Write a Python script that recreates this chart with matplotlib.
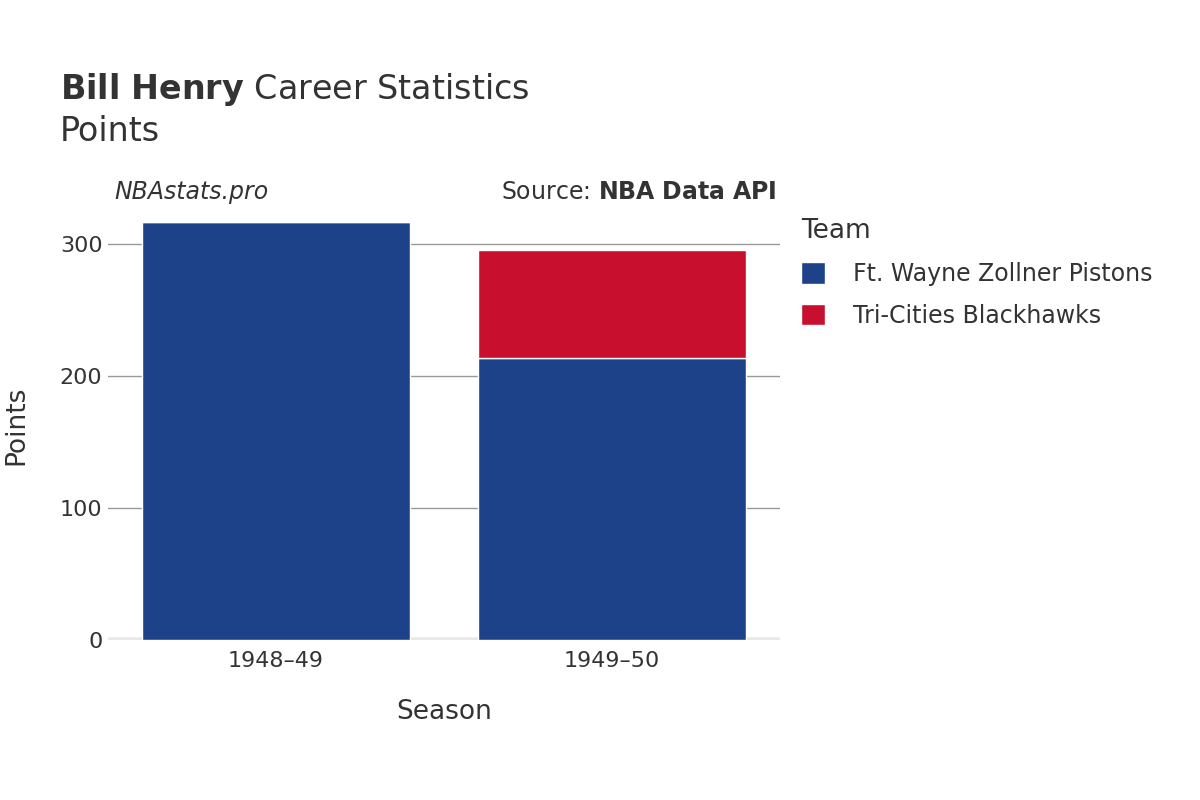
import matplotlib.pyplot as plt

seasons = ['1948–49', '1949–50']
teams = ['Ft. Wayne Zollner Pistons', 'Tri-Cities Blackhawks']
pistons_pts = [317, 214]
blackhawks_pts = [0, 82]
colors = ['#1d4289', '#c8102e']

fig = plt.figure(figsize=(12, 8), dpi=100)
ax = fig.add_axes([0.09, 0.2, 0.56, 0.5375])

x = list(range(len(seasons)))
ax.bar(x, pistons_pts, width=0.8, color=colors[0], edgecolor='white', linewidth=1, label=teams[0], zorder=3)
ax.bar(x, blackhawks_pts, width=0.8, bottom=pistons_pts, color=colors[1], edgecolor='white', linewidth=1, label=teams[1], zorder=3)

ax.set_xlim(-0.5, 1.5)
ax.set_ylim(0, 326)
ax.set_yticks([0, 100, 200, 300])
ax.set_xticks(x)
ax.set_xticklabels(seasons)
ax.grid(axis='y', color='#999999', linewidth=1, zorder=0)
for s in ax.spines.values():
    s.set_visible(False)
ax.axhline(0, color='#e8e8e8', linewidth=4, zorder=2)
ax.tick_params(axis='both', length=0, labelsize=16, colors='#333333', pad=8)
ax.tick_params(axis='y', pad=4)
ax.set_xlabel('Season', fontsize=19, color='#333333', labelpad=20)
ax.set_ylabel('Points', fontsize=19, color='#333333', labelpad=22)

fig.text(0.05, 0.865, r'$\bf{Bill\ Henry}$ Career Statistics', fontsize=24, color='#333333', va='bottom')
fig.text(0.05, 0.815, 'Points', fontsize=24, color='#333333', va='bottom')
fig.text(0.095, 0.76, 'NBAstats.pro', fontsize=17, style='italic', color='#333333', va='center')
fig.text(0.647, 0.76, r'Source: $\bf{NBA\ Data\ API}$', fontsize=17, color='#333333', va='center', ha='right')

leg = ax.legend(title='Team', loc='upper left', bbox_to_anchor=(1.0, 1.03), frameon=False,
                fontsize=17, title_fontsize=19, handlelength=1, handleheight=1,
                labelspacing=0.75, handletextpad=1.2, labelcolor='#333333')
leg.get_title().set_color('#333333')
leg._legend_box.align = 'left'

fig.savefig('out.png')
